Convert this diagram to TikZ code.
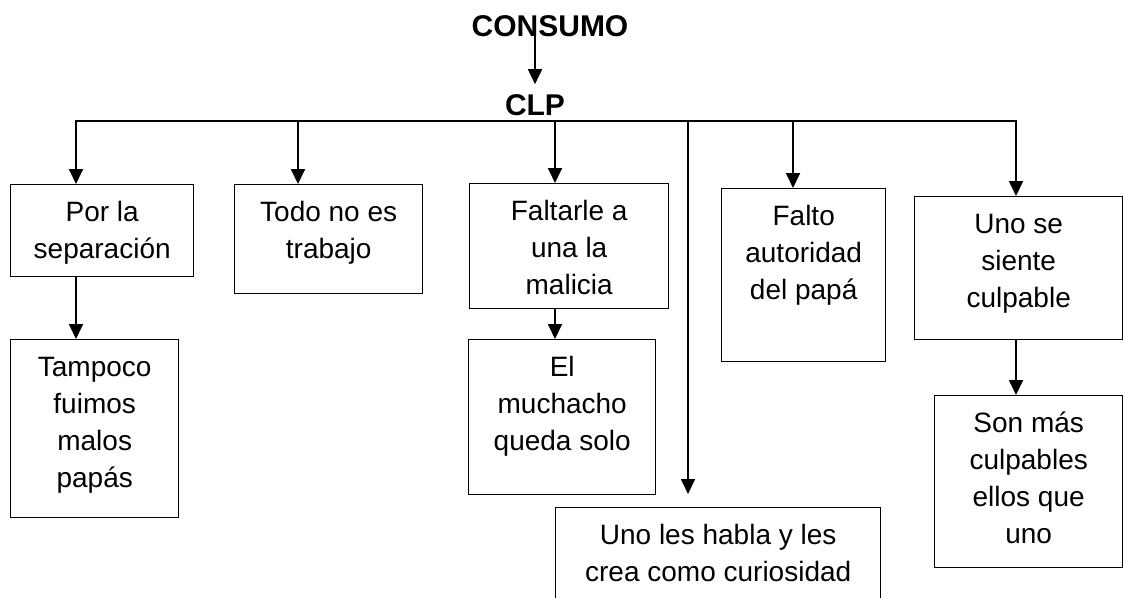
\documentclass[tikz,border=0pt]{standalone}
\usepackage{fontspec}
\setmainfont{Liberation Sans}
\usetikzlibrary{arrows.meta}

\newcommand{\caja}[3]{\parbox[c][#1][t]{#2}{\centering\rule{0pt}{37pt}#3}}

\begin{document}
\begin{tikzpicture}[x=1pt,y=-1pt]
	\tikzset{titulo/.style={font=\fontsize{30}{36}\selectfont\bfseries,inner sep=0pt}}
	\tikzset{recuadro/.style={draw,line width=1.4pt,inner sep=0pt,anchor=north west,font=\fontsize{28}{37}\selectfont}}
	\tikzset{flecha/.style={line width=1.8pt,-{Triangle[length=15pt,width=14pt]}}}
	\useasboundingbox (0,0) rectangle (1123,597);
	\clip (0,0) rectangle (1123,597);
	\node[titulo] (consumo) at (550,26) {CONSUMO};
	\node[titulo] (clp) at (535,105) {CLP};
	\coordinate (d1) at (76,121);
	\coordinate (d2) at (298,121);
	\coordinate (d3) at (555,121);
	\coordinate (d4) at (688,121);
	\coordinate (d5) at (793,121);
	\coordinate (d6) at (1016,121);
	\node[recuadro] (separacion) at (10,184) {\caja{92pt}{183pt}{Por la\\separación}};
	\node[recuadro] (tampoco) at (10,339) {\caja{178pt}{168pt}{Tampoco\\fuimos\\malos\\papás}};
	\node[recuadro] (trabajo) at (234,184) {\caja{109pt}{188pt}{Todo no es\\trabajo}};
	\node[recuadro] (malicia) at (469,183) {\caja{125pt}{199pt}{Faltarle a\\una la\\malicia}};
	\node[recuadro] (muchacho) at (468,339) {\caja{155pt}{187pt}{El\\muchacho\\queda solo}};
	\node[recuadro] (autoridad) at (721,188) {\caja{173pt}{164pt}{Falto\\autoridad\\del papá}};
	\node[recuadro] (culpable) at (914,196) {\caja{143pt}{208pt}{Uno se\\siente\\culpable}};
	\node[recuadro] (masculpables) at (934,395) {\caja{172pt}{188pt}{Son más\\culpables\\ellos que\\uno}};
	\node[recuadro] (curiosidad) at (555,507) {\caja{110pt}{325pt}{Uno les habla y les\\crea como curiosidad}};
	\draw[flecha] ([yshift=4pt]consumo.south -| clp.north) -- ([yshift=10pt]clp.north);
	\draw[line width=1.8pt,line cap=rect] (d1) -- (d6);
	\draw[flecha] (d1) -- (d1 |- separacion.north);
	\draw[flecha] (d2) -- (d2 |- trabajo.north);
	\draw[flecha] (d3) -- (d3 |- malicia.north);
	\draw[flecha,shorten >=13pt] (d4) -- (d4 |- curiosidad.north);
	\draw[flecha] (d5) -- (d5 |- autoridad.north);
	\draw[flecha] (d6) -- (d6 |- culpable.north);
	\draw[flecha] (d1 |- separacion.south) -- (d1 |- tampoco.north);
	\draw[flecha] (d3 |- malicia.south) -- (d3 |- muchacho.north);
	\draw[flecha] (d6 |- culpable.south) -- (d6 |- masculpables.north);
\end{tikzpicture}
\end{document}
